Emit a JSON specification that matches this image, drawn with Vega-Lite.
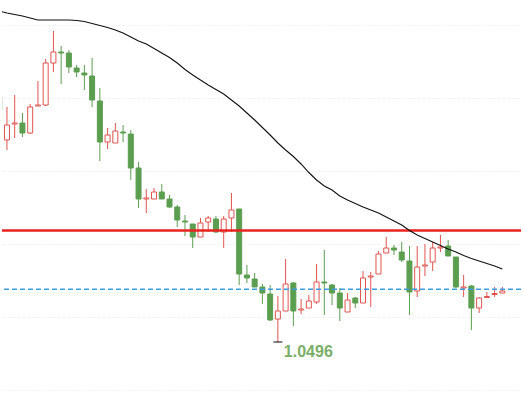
{
  "$schema": "https://vega.github.io/schema/vega-lite/v6.json",
  "width": 523,
  "height": 394,
  "padding": 0,
  "autosize": {"type": "fit", "contains": "padding"},
  "background": "white",
  "config": {"view": {"stroke": null}},
  "datasets": {
    "candles": [
      {"i":0,"o":1.0741,"h":1.0742,"l":1.0726,"c":1.0728,"ma":1.0827},
      {"i":1,"o":1.0698,"h":1.0731,"l":1.0688,"c":1.0713,"ma":1.0825},
      {"i":2,"o":1.0714,"h":1.0743,"l":1.0700,"c":1.0715,"ma":1.08235},
      {"i":3,"o":1.0715,"h":1.0725,"l":1.0701,"c":1.0705,"ma":1.0822},
      {"i":4,"o":1.0705,"h":1.0734,"l":1.0704,"c":1.0731,"ma":1.0820},
      {"i":5,"o":1.0732,"h":1.0757,"l":1.0732,"c":1.0733,"ma":1.0818},
      {"i":6,"o":1.0733,"h":1.0779,"l":1.0732,"c":1.0775,"ma":1.0818},
      {"i":7,"o":1.0775,"h":1.0807,"l":1.0766,"c":1.0786,"ma":1.0818},
      {"i":8,"o":1.0786,"h":1.0792,"l":1.0754,"c":1.0785,"ma":1.0818},
      {"i":9,"o":1.0785,"h":1.0788,"l":1.0765,"c":1.0771,"ma":1.0818},
      {"i":10,"o":1.0770,"h":1.0773,"l":1.0761,"c":1.0766,"ma":1.08175},
      {"i":11,"o":1.0765,"h":1.0773,"l":1.0748,"c":1.0763,"ma":1.08165},
      {"i":12,"o":1.0762,"h":1.0780,"l":1.0731,"c":1.0738,"ma":1.08145},
      {"i":13,"o":1.0737,"h":1.0750,"l":1.0677,"c":1.0696,"ma":1.08125},
      {"i":14,"o":1.0696,"h":1.0710,"l":1.0689,"c":1.0703,"ma":1.08105},
      {"i":15,"o":1.0695,"h":1.0715,"l":1.0695,"c":1.0707,"ma":1.0808},
      {"i":16,"o":1.0706,"h":1.0713,"l":1.0696,"c":1.0705,"ma":1.0805},
      {"i":17,"o":1.0704,"h":1.0708,"l":1.0658,"c":1.0670,"ma":1.0801},
      {"i":18,"o":1.0670,"h":1.0676,"l":1.0630,"c":1.0639,"ma":1.0797},
      {"i":19,"o":1.0639,"h":1.0649,"l":1.0625,"c":1.0640,"ma":1.0794},
      {"i":20,"o":1.0639,"h":1.0650,"l":1.0639,"c":1.0646,"ma":1.07895},
      {"i":21,"o":1.0646,"h":1.0654,"l":1.0639,"c":1.0639,"ma":1.0785},
      {"i":22,"o":1.0639,"h":1.0643,"l":1.0630,"c":1.0631,"ma":1.07805},
      {"i":23,"o":1.0631,"h":1.0633,"l":1.0611,"c":1.0618,"ma":1.0775},
      {"i":24,"o":1.0617,"h":1.0623,"l":1.0602,"c":1.0616,"ma":1.07685},
      {"i":25,"o":1.0614,"h":1.0614,"l":1.0590,"c":1.0601,"ma":1.0763},
      {"i":26,"o":1.0601,"h":1.0620,"l":1.0601,"c":1.0615,"ma":1.0758},
      {"i":27,"o":1.0616,"h":1.0622,"l":1.0606,"c":1.0620,"ma":1.0753},
      {"i":28,"o":1.0619,"h":1.0622,"l":1.0605,"c":1.0606,"ma":1.07485},
      {"i":29,"o":1.0606,"h":1.0622,"l":1.0590,"c":1.0619,"ma":1.0744},
      {"i":30,"o":1.0620,"h":1.0645,"l":1.0606,"c":1.0628,"ma":1.0738},
      {"i":31,"o":1.0629,"h":1.0629,"l":1.0553,"c":1.0564,"ma":1.0732},
      {"i":32,"o":1.0563,"h":1.0573,"l":1.0555,"c":1.0560,"ma":1.0725},
      {"i":33,"o":1.0559,"h":1.0565,"l":1.0551,"c":1.0551,"ma":1.0718},
      {"i":34,"o":1.0551,"h":1.0554,"l":1.0534,"c":1.0545,"ma":1.07105},
      {"i":35,"o":1.0544,"h":1.0553,"l":1.0517,"c":1.0518,"ma":1.0703},
      {"i":36,"o":1.0519,"h":1.0542,"l":1.0496,"c":1.0527,"ma":1.0695},
      {"i":37,"o":1.0527,"h":1.0579,"l":1.0527,"c":1.0554,"ma":1.0688},
      {"i":38,"o":1.0555,"h":1.0556,"l":1.0512,"c":1.0527,"ma":1.06815},
      {"i":39,"o":1.0528,"h":1.0539,"l":1.0524,"c":1.0529,"ma":1.0674},
      {"i":40,"o":1.0530,"h":1.0543,"l":1.0530,"c":1.0537,"ma":1.06655},
      {"i":41,"o":1.0536,"h":1.0574,"l":1.0534,"c":1.0556,"ma":1.0658},
      {"i":42,"o":1.0556,"h":1.0588,"l":1.0523,"c":1.0555,"ma":1.0652},
      {"i":43,"o":1.0553,"h":1.0554,"l":1.0533,"c":1.0545,"ma":1.0648},
      {"i":44,"o":1.0545,"h":1.0550,"l":1.0517,"c":1.0530,"ma":1.0642},
      {"i":45,"o":1.0526,"h":1.0545,"l":1.0526,"c":1.0538,"ma":1.0638},
      {"i":46,"o":1.0540,"h":1.0541,"l":1.0530,"c":1.0535,"ma":1.06345},
      {"i":47,"o":1.0535,"h":1.0567,"l":1.0535,"c":1.0560,"ma":1.0631},
      {"i":48,"o":1.0561,"h":1.0566,"l":1.0531,"c":1.0562,"ma":1.0628},
      {"i":49,"o":1.0564,"h":1.0587,"l":1.0564,"c":1.0584,"ma":1.0625},
      {"i":50,"o":1.0585,"h":1.0601,"l":1.0585,"c":1.0590,"ma":1.0621},
      {"i":51,"o":1.0590,"h":1.0593,"l":1.0583,"c":1.0588,"ma":1.0617},
      {"i":52,"o":1.0586,"h":1.0596,"l":1.0576,"c":1.0578,"ma":1.0613},
      {"i":53,"o":1.0577,"h":1.0592,"l":1.0523,"c":1.0546,"ma":1.06075},
      {"i":54,"o":1.0547,"h":1.0592,"l":1.0541,"c":1.0571,"ma":1.0603},
      {"i":55,"o":1.0572,"h":1.0594,"l":1.0562,"c":1.0573,"ma":1.05995},
      {"i":56,"o":1.0576,"h":1.0596,"l":1.0567,"c":1.0590,"ma":1.0596},
      {"i":57,"o":1.0590,"h":1.0603,"l":1.0586,"c":1.0591,"ma":1.05925},
      {"i":58,"o":1.0592,"h":1.0598,"l":1.0582,"c":1.0582,"ma":1.0589},
      {"i":59,"o":1.0581,"h":1.0581,"l":1.0550,"c":1.0551,"ma":1.0586},
      {"i":60,"o":1.0550,"h":1.0563,"l":1.0541,"c":1.0551,"ma":1.05825},
      {"i":61,"o":1.0552,"h":1.0553,"l":1.0508,"c":1.0530,"ma":1.05795},
      {"i":62,"o":1.0530,"h":1.0541,"l":1.0525,"c":1.0540,"ma":1.0577},
      {"i":63,"o":1.05405,"h":1.0546,"l":1.0540,"c":1.05415,"ma":1.05745},
      {"i":64,"o":1.05435,"h":1.0551,"l":1.0541,"c":1.05445,"ma":1.0572},
      {"i":65,"o":1.0545,"h":1.0551,"l":1.0545,"c":1.0547,"ma":1.0569}
    ],
    "levels": [
      {"name": "resistance", "p": 1.06075},
      {"name": "current", "p": 1.05487}
    ],
    "low": [{"i": 36, "p": 1.0496}]
  },
  "layer": [
    {
      "data": {"name": "candles"},
      "mark": {"type": "rule", "strokeWidth": 1, "clip": true},
      "encoding": {
        "x": {"field": "i", "type": "quantitative", "scale": {"domain": [0.359, 67.41], "nice": false, "zero": false, "padding": 0}, "axis": null},
        "y": {"field": "h", "type": "quantitative", "scale": {"domain": [1.0444, 1.0838], "nice": false, "zero": false, "padding": 0},
              "axis": {"values": [1.0813, 1.0740, 1.0667, 1.0594, 1.0521, 1.0448], "labels": false, "ticks": false, "domain": false, "title": null, "grid": true, "gridColor": "#f3f3f3", "gridDash": [3, 2], "minExtent": 0, "maxExtent": 0}},
        "y2": {"field": "l"},
        "color": {"condition": {"test": "datum.c >= datum.o", "value": "#e0544f"}, "value": "#5c9e50"}
      }
    },
    {
      "data": {"name": "candles"},
      "mark": {"type": "bar", "size": 5, "strokeWidth": 1, "orient": "vertical", "clip": true},
      "encoding": {
        "x": {"field": "i", "type": "quantitative"},
        "y": {"field": "o", "type": "quantitative"},
        "y2": {"field": "c"},
        "fill": {"condition": {"test": "datum.c >= datum.o", "value": "#ffffff"}, "value": "#5c9e50"},
        "stroke": {"condition": {"test": "datum.c >= datum.o", "value": "#e0544f"}, "value": "#5c9e50"}
      }
    },
    {
      "data": {"name": "levels"},
      "transform": [{"filter": "datum.name == 'resistance'"}],
      "mark": {"type": "rule", "color": "#e8231f", "strokeWidth": 2.5},
      "encoding": {"y": {"field": "p", "type": "quantitative"}}
    },
    {
      "data": {"name": "levels"},
      "transform": [{"filter": "datum.name == 'current'"}],
      "mark": {"type": "rule", "color": "#3d9be0", "strokeWidth": 1.4, "strokeDash": [5, 3]},
      "encoding": {"y": {"field": "p", "type": "quantitative"}}
    },
    {
      "data": {"name": "candles"},
      "mark": {"type": "line", "color": "#111111", "strokeWidth": 1.1, "clip": true},
      "encoding": {
        "x": {"field": "i", "type": "quantitative"},
        "y": {"field": "ma", "type": "quantitative"}
      }
    },
    {
      "data": {"name": "low"},
      "mark": {"type": "tick", "orient": "horizontal", "size": 9, "thickness": 1.5, "color": "#111111"},
      "encoding": {
        "x": {"field": "i", "type": "quantitative"},
        "y": {"field": "p", "type": "quantitative"}
      }
    },
    {
      "data": {"name": "low"},
      "mark": {"type": "text", "align": "left", "baseline": "alphabetic", "dx": 6, "dy": 14.5, "font": "Liberation Sans", "fontSize": 16, "fontWeight": "bold", "color": "#7aae68"},
      "encoding": {
        "x": {"field": "i", "type": "quantitative"},
        "y": {"field": "p", "type": "quantitative"},
        "text": {"field": "p", "type": "quantitative", "format": ".4f"}
      }
    }
  ]
}
